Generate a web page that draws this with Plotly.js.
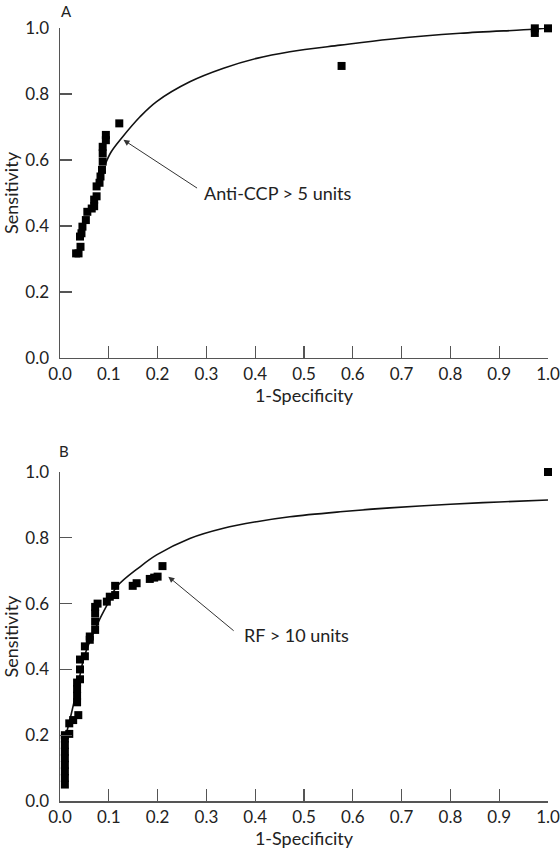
<!DOCTYPE html>
<html>
<head>
<meta charset="utf-8">
<script src="https://cdn.plot.ly/plotly-3.0.1.min.js"></script>
<style>html,body{margin:0;padding:0;background:#fff;}#chart{width:560px;height:852px;}</style>
</head>
<body>
<div id="chart"></div>
<script>
// Panel A: Anti-CCP
var aPointsX = [0.033,0.038,0.042,0.041,0.044,0.046,0.053,0.056,0.065,0.070,0.070,0.075,0.075,0.081,0.083,0.086,0.0875,0.0875,0.0875,0.094,0.094,0.1215,0.577,0.973,0.973,1.0];
var aPointsY = [0.317,0.317,0.337,0.368,0.378,0.398,0.418,0.443,0.453,0.46,0.48,0.49,0.52,0.531,0.55,0.57,0.595,0.62,0.64,0.66,0.676,0.711,0.885,0.985,0.999,0.999];
var aCurveX = [0.092,0.105,0.126,0.164,0.198,0.266,0.335,0.403,0.471,0.574,0.676,0.82,0.969,1.0];
var aCurveY = [0.585,0.625,0.666,0.731,0.777,0.837,0.878,0.908,0.928,0.948,0.966,0.984,0.996,1.0];

// Panel B: RF
var bPointsX = [0.01,0.01,0.01,0.01,0.01,0.01,0.01,0.01,0.01,0.019,0.019,0.027,0.0375,0.035,0.035,0.035,0.035,0.041,0.041,0.041,0.051,0.051,0.061,0.061,0.072,0.072,0.072,0.072,0.077,0.096,0.102,0.113,0.113,0.149,0.157,0.184,0.193,0.2,0.21,1.0];
var bPointsY = [0.05,0.07,0.09,0.11,0.13,0.15,0.17,0.19,0.2,0.204,0.236,0.246,0.261,0.30,0.32,0.34,0.36,0.37,0.40,0.43,0.44,0.47,0.49,0.50,0.52,0.545,0.57,0.59,0.60,0.606,0.621,0.626,0.654,0.654,0.662,0.675,0.679,0.682,0.714,1.0];
var bCurveX = [0.012,0.02,0.0375,0.05,0.079,0.102,0.116,0.164,0.198,0.266,0.335,0.403,0.471,0.574,0.676,0.8,0.9,1.0];
var bCurveY = [0.2,0.245,0.358,0.44,0.545,0.611,0.651,0.712,0.748,0.798,0.829,0.849,0.864,0.879,0.891,0.902,0.909,0.915];

var tickVals = [0,0.1,0.2,0.3,0.4,0.5,0.6,0.7,0.8,0.9,1.0];
var tickText = ['0.0','0.1','0.2','0.3','0.4','0.5','0.6','0.7','0.8','0.9','1.0'];
var yTickVals = [0,0.2,0.4,0.6,0.8,1.0];
var yTickText = ['0.0','0.2','0.4','0.6','0.8','1.0'];
var xTitle = '1-Specificity';
var yTitle = 'Sensitivity';
var labelA = 'Anti-CCP &gt; 5 units';
var labelB = 'RF &gt; 10 units';

var FONT = 'Lato, "Open Sans", sans-serif';
var INK = '#222';
var AX = '#555';

var marker = {symbol:'square', size:8, color:'#000'};
var traces = [
  {x:aCurveX, y:aCurveY, xaxis:'x2', yaxis:'y2', mode:'lines', line:{color:'#111', width:1.6, shape:'spline'}, hoverinfo:'skip', cliponaxis:false},
  {x:aPointsX, y:aPointsY, xaxis:'x2', yaxis:'y2', mode:'markers', marker:marker, cliponaxis:false},
  {x:bCurveX, y:bCurveY, xaxis:'x', yaxis:'y', mode:'lines', line:{color:'#111', width:1.6, shape:'spline'}, hoverinfo:'skip', cliponaxis:false},
  {x:bPointsX, y:bPointsY, xaxis:'x', yaxis:'y', mode:'markers', marker:marker, cliponaxis:false}
];

function xax(anchor){
  return {anchor:anchor, domain:[0,1], range:[0,1], tickvals:tickVals, ticktext:tickText,
    ticks:'inside', ticklen:12, tickwidth:1.2, tickcolor:AX, showline:true, linecolor:AX, linewidth:1.5,
    showgrid:false, zeroline:false, tickfont:{family:FONT, size:17, color:INK}, ticklabelstandoff:0,
    ticklabeloverflow:'allow',
    title:{text:xTitle, font:{family:FONT, size:18, color:INK}, standoff:6}, automargin:false, fixedrange:true};
}
function yax(anchor, dom){
  return {anchor:anchor, domain:dom, range:[0,1], tickvals:yTickVals, ticktext:yTickText,
    ticks:'inside', ticklen:12, tickwidth:1.2, tickcolor:AX, showline:true, linecolor:AX, linewidth:1.5,
    showgrid:false, zeroline:false, tickfont:{family:FONT, size:17, color:INK}, ticklabelstandoff:6,
    ticklabeloverflow:'allow',
    title:{text:yTitle, font:{family:FONT, size:18, color:INK}, standoff:3}, automargin:false, fixedrange:true};
}

var arrowCommon = {showarrow:true, arrowhead:2, arrowsize:1.2, arrowwidth:1, arrowcolor:'#333', standoff:0, startstandoff:0, text:' '};

var layout = {
  width:560, height:852,
  margin:{l:60, r:12, t:28, b:51},
  paper_bgcolor:'#fff', plot_bgcolor:'#fff',
  showlegend:false,
  font:{family:FONT, color:INK},
  xaxis:xax('y'),
  yaxis:yax('x',[0,0.4256]),
  xaxis2:xax('y2'),
  yaxis2:yax('x2',[0.5731,1]),
  annotations:[
    {xref:'paper', yref:'paper', x:0.0123, y:1.0225, xanchor:'center', yanchor:'middle', text:'A', showarrow:false, font:{family:FONT, size:15, color:INK}},
    {xref:'paper', yref:'paper', x:0.0082, y:0.4528, xanchor:'center', yanchor:'middle', text:'B', showarrow:false, font:{family:FONT, size:15, color:INK}},
    Object.assign({xref:'x2', yref:'y2', x:0.13, y:0.661, axref:'x2', ayref:'y2', ax:0.287, ay:0.509}, arrowCommon),
    {xref:'x2', yref:'y2', x:0.29, y:0.5, xanchor:'left', text:labelA, showarrow:false, font:{family:FONT, size:18, color:INK}},
    Object.assign({xref:'x', yref:'y', x:0.222, y:0.682, axref:'x', ayref:'y', ax:0.362, ay:0.51}, arrowCommon),
    {xref:'x', yref:'y', x:0.372, y:0.505, xanchor:'left', text:labelB, showarrow:false, font:{family:FONT, size:18, color:INK}}
  ]
};

Plotly.newPlot('chart', traces, layout, {staticPlot:true, displayModeBar:false});
</script>
</body>
</html>
